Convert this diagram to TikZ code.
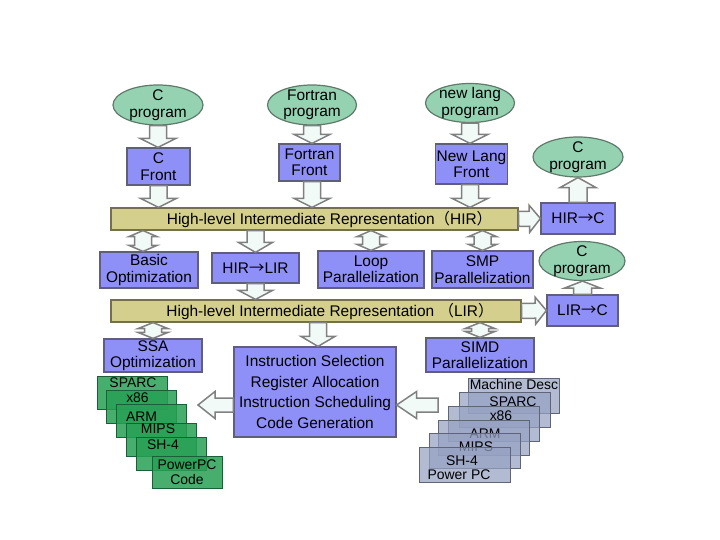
\documentclass[tikz,border=0pt]{standalone}
\usepackage{fontspec}
\setmainfont{Liberation Sans}
\newfontfamily\cjk{Noto Sans CJK SC}
\usetikzlibrary{shapes.geometric,calc}
\definecolor{boxblue}{RGB}{143,143,248}
\definecolor{boxedge}{RGB}{95,95,125}
\definecolor{ellfill}{RGB}{148,210,178}
\definecolor{elledge}{RGB}{95,122,105}
\definecolor{barfill}{RGB}{212,207,140}
\definecolor{baredge}{RGB}{115,112,75}
\definecolor{arrfill}{RGB}{242,250,248}
\definecolor{arredge}{RGB}{128,128,128}
\definecolor{grnfill}{RGB}{40,160,85}
\definecolor{grnedge}{RGB}{25,95,55}
\definecolor{gryfill}{RGB}{150,162,195}
\definecolor{gryedge}{RGB}{95,100,118}
\tikzset{
  lbl/.style={font=\fontsize{15.5}{16.5}\selectfont, align=center, inner sep=0pt, text=black},
  bluebox/.style={lbl, rectangle, draw=boxedge, fill=boxblue, line width=1.2bp},
  prog/.style={lbl, ellipse, draw=elledge, fill=ellfill, line width=1.2bp, inner ysep=-6bp},
  irbar/.style={lbl, rectangle, draw=baredge, fill=barfill, line width=1.2bp},
  blk/.style={draw=arredge, fill=arrfill, line width=1.5bp, line join=miter},
  grn/.style={rectangle, draw=grnedge, fill=grnfill, fill opacity=0.85, line width=1bp, minimum width=70bp, minimum height=33bp, anchor=north west, inner sep=0pt},
  gry/.style={rectangle, draw=gryedge, fill=gryfill, fill opacity=0.72, line width=1bp, minimum width=91bp, minimum height=35bp, anchor=north west, inner sep=0pt},
  stk/.style={font=\fontsize{14}{15}\selectfont, align=center, inner sep=0pt, text=black, text opacity=1},
}
\newcommand\rarr{{\cjk →}}
% block arrow: start, end, shaft half width, head half width, head length
\newcommand\blkarrow[5]{%
  \coordinate (bas) at (#1); \coordinate (bae) at (#2);
  \coordinate (bah) at ($(bae)!#5!(bas)$);
  \path[blk] ($(bas)!#3!90:(bae)$) -- ($(bah)!#3!90:(bae)$) -- ($(bah)!#4!90:(bae)$)
    -- (bae) -- ($(bah)!#4!-90:(bae)$) -- ($(bah)!#3!-90:(bae)$) -- ($(bas)!#3!-90:(bae)$) -- cycle;}
% double block arrow
\newcommand\dblarrow[5]{%
  \coordinate (dbs) at (#1); \coordinate (dbe) at (#2);
  \coordinate (dh1) at ($(dbs)!#5!(dbe)$);
  \coordinate (dh2) at ($(dbe)!#5!(dbs)$);
  \path[blk] (dbs) -- ($(dh1)!#4!90:(dbe)$) -- ($(dh1)!#3!90:(dbe)$) -- ($(dh2)!#3!-90:(dbs)$)
    -- ($(dh2)!#4!-90:(dbs)$) -- (dbe) -- ($(dh2)!#4!90:(dbs)$) -- ($(dh2)!#3!90:(dbs)$)
    -- ($(dh1)!#3!-90:(dbe)$) -- ($(dh1)!#4!-90:(dbe)$) -- cycle;}
\begin{document}
\begin{tikzpicture}[x=1bp,y=-1bp]
\fill[white] (0,0) rectangle (720,540);
\useasboundingbox (0,0) rectangle (720,540);

% sources
\node[prog, minimum width=90bp, minimum height=40bp] (cprog) at (158,105) {C\\program};
\node[prog, minimum width=89bp, minimum height=40bp] (fprog) at (312,105) {Fortran\\program};
\node[prog, minimum width=89bp, minimum height=39bp] (nprog) at (470,103) {new lang\\program};
\node[bluebox, minimum width=63bp, minimum height=37bp] (cfront) at (158.5,166.5) {C\\Front};
\node[bluebox, minimum width=61bp, minimum height=37bp] (ffront) at (309.5,162.5) {Fortran\\Front};
\node[bluebox, minimum width=72bp, minimum height=40bp] (nfront) at (471.5,164) {New Lang\\Front};

% HIR
\node[irbar, minimum width=407bp, minimum height=22bp] (hir) at (314.5,219) {\hspace*{30bp}High-level Intermediate Representation{\cjk （}HIR{\cjk ）}};
\node[bluebox, minimum width=74bp, minimum height=31bp] (hirc) at (578,218.5) {HIR\rarr C};
\node[prog, minimum width=90bp, minimum height=40bp] (cprog3) at (578,157) {C\\program};

% row 2
\node[bluebox, minimum width=98bp, minimum height=36bp] (basic) at (149,270) {Basic\\Optimization};
\node[bluebox, minimum width=87bp, minimum height=30bp] (hirlir) at (255.5,268) {HIR\rarr LIR};
\node[bluebox, minimum width=106bp, minimum height=37bp] (loop) at (371,269.5) {Loop\\Parallelization};
\node[bluebox, minimum width=101bp, minimum height=37bp] (smp) at (482.5,269.5) {SMP\\Parallelization};
\node[prog, minimum width=86bp, minimum height=39bp] (cprog4) at (582,261) {C\\program};

% LIR
\node[irbar, minimum width=410bp, minimum height=22bp] (lir) at (316,311) {\hspace*{28bp}High-level Intermediate Representation {\cjk （}LIR{\cjk ）}};
\node[bluebox, minimum width=71bp, minimum height=31bp] (lirc) at (582.5,310.5) {LIR\rarr C};

% row 3
\node[bluebox, minimum width=98bp, minimum height=33bp] (ssa) at (153,355.5) {SSA\\Optimization};
\node[bluebox, minimum width=162bp, minimum height=90bp, font=\fontsize{15.5}{20.7}\selectfont] (instr) at (315,392) {Instruction Selection\\Register Allocation\\Instruction Scheduling\\Code Generation};
\node[bluebox, minimum width=108bp, minimum height=34bp] (simd) at (480,355) {SIMD\\Parallelization};

% green target stack
\node[grn] (g1) at (97,376) {};
\node[stk] (tg1) at (133,383) {SPARC};
\node[grn] (g2) at (106,390) {};
\node[stk] (tg2) at (137.5,398) {x86};
\node[grn] (g3) at (116,404) {};
\node[stk] (tg3) at (141.5,417) {ARM};
\node[grn] (g4) at (126,423) {};
\node[stk] (tg4) at (158,429) {MIPS};
\node[grn] (g5) at (136,437) {};
\node[stk] (tg5) at (163,445) {SH-4};
\node[grn, minimum height=32bp] (g6) at (152,456) {};
\node[stk] (tg6) at (187,472) {PowerPC\\Code};

% gray machine description stack
\node[gry] (m1) at (468,378) {};
\node[stk] (tm1) at (514,385) {Machine Desc};
\node[gry] (m2) at (459,392) {};
\node[stk] (tm2) at (513,402) {SPARC};
\node[gry] (m3) at (448,406) {};
\node[stk] (tm3) at (501,416) {x86};
\node[gry] (m4) at (438,420) {};
\node[stk] (tm4) at (485,434) {ARM};
\node[gry] (m5) at (429,433) {};
\node[stk] (tm5) at (476,447) {MIPS};
\node[gry] (m6) at (419,447) {};
\node[stk] (tm6) at (462,461) {SH-4};
\node[stk] (tm7) at (459,475) {Power PC};

% helper coordinates
\coordinate (bo) at ([xshift=-6bp]basic.north);
\coordinate (ia) at ([xshift=3bp]instr.north);
\coordinate (gtip) at (198,405);
\coordinate (gtail) at (438,405);

% single block arrows
\blkarrow{cprog.south}{cprog.south |- cfront.north}{8.5bp}{18bp}{9bp}
\blkarrow{fprog.south}{fprog.south |- ffront.north}{8.5bp}{18bp}{9bp}
\blkarrow{nprog.south}{nprog.south |- nfront.north}{8.5bp}{18bp}{9bp}
\blkarrow{cfront.south}{cfront.south |- hir.north}{8.5bp}{18bp}{9bp}
\blkarrow{fprog.south |- ffront.south}{fprog.south |- hir.north}{8.5bp}{18bp}{9bp}
\blkarrow{nprog.south |- nfront.south}{nprog.south |- hir.north}{8.5bp}{18bp}{9bp}
\blkarrow{hirlir.north |- hir.south}{hirlir.north}{8.5bp}{17bp}{10bp}
\blkarrow{hirlir.south}{hirlir.south |- lir.north}{8.5bp}{17bp}{9bp}
\blkarrow{ia |- lir.south}{ia}{8.5bp}{17bp}{10bp}
\blkarrow{hir.east}{hirc.west}{7.5bp}{13.5bp}{11bp}
\blkarrow{lir.east}{lirc.west}{7.5bp}{13.5bp}{11bp}
\blkarrow{hirc.north}{hirc.north |- cprog3.south}{9bp}{18bp}{10bp}
\blkarrow{lirc.north}{lirc.north |- cprog4.south}{9bp}{18bp}{7bp}
\blkarrow{instr.west |- gtip}{gtip}{7bp}{13.5bp}{17bp}
\blkarrow{gtail}{instr.east |- gtail}{7bp}{13.5bp}{20bp}

% double block arrows
\dblarrow{bo |- hir.south}{bo}{8.5bp}{14bp}{6bp}
\dblarrow{loop.north |- hir.south}{loop.north}{8.5bp}{14bp}{6bp}
\dblarrow{smp.north |- hir.south}{smp.north}{8.5bp}{14bp}{6bp}
\dblarrow{ssa.north |- lir.south}{ssa.north}{8.5bp}{15bp}{6bp}
\dblarrow{simd.north |- lir.south}{simd.north}{8.5bp}{15bp}{6bp}
\end{tikzpicture}
\end{document}
